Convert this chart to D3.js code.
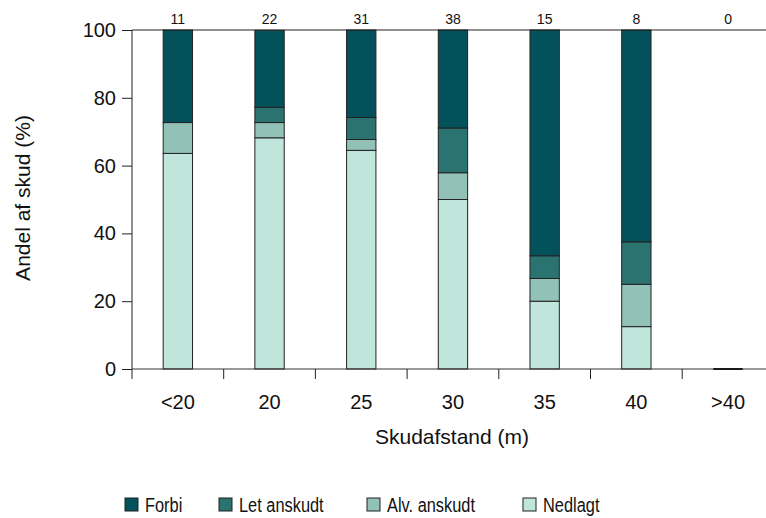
<!DOCTYPE html>
<html>
<head>
<meta charset="utf-8">
<script src="https://cdn.jsdelivr.net/npm/d3@7"></script>
<style>
  body { margin: 0; background: #fff; }
  svg { font-family: "Liberation Sans", Arial, sans-serif; }
  .axis text { font-size: 20px; fill: #111; }
  .axis path, .axis line { stroke: #222; }
</style>
</head>
<body>
<div id="plot-area"></div>
<script>
// categories and counts
const categories = ["<20", "20", "25", "30", "35", "40", ">40"];
const counts = [11, 22, 31, 38, 15, 8, 0];
// shares in percent
const nedlagt = [63.6, 68.2, 64.5, 50.0, 20.0, 12.5, 0];
const alvAnskudt = [9.1, 4.5, 3.2, 7.9, 6.7, 12.5, 0];
const letAnskudt = [0, 4.5, 6.5, 13.2, 6.7, 12.5, 0];
const forbi = [27.3, 22.7, 25.8, 28.9, 66.6, 62.5, 0];
const seriesNames = ["Nedlagt", "Alv. anskudt", "Let anskudt", "Forbi"];
const legendOrder = ["Forbi", "Let anskudt", "Alv. anskudt", "Nedlagt"];
const yTicks = [0, 20, 40, 60, 80, 100];

const colors = d3.scaleOrdinal()
    .domain(["Forbi", "Let anskudt", "Alv. anskudt", "Nedlagt"])
    .range(["#03525b", "#2b7371", "#92c1b8", "#c0e6dc"]);

const width = 766, height = 518;
const margin = {top: 30, left: 132};
const plotBottom = 369;
const bandW = 91.7;

const svg = d3.select("#plot-area").append("svg")
    .attr("width", width)
    .attr("height", height);

const x = d3.scaleBand()
    .domain(categories)
    .range([margin.left, margin.left + bandW * categories.length])
    .paddingInner(0.68).paddingOuter(0.34);
// tick positions sit on band boundaries
const xb = d3.scaleLinear().domain([0, categories.length]).range([margin.left, margin.left + bandW * categories.length]);

const y = d3.scaleLinear().domain([0, 100]).range([plotBottom, margin.top]);

const rows = categories.map(function (c, i) {
    return {cat: c, "Nedlagt": nedlagt[i], "Alv. anskudt": alvAnskudt[i], "Let anskudt": letAnskudt[i], "Forbi": forbi[i]};
});
const stack = d3.stack().keys(seriesNames)(rows);

// bars
svg.append("g").selectAll("g")
    .data(stack)
    .join("g")
    .attr("fill", function (d) { return colors(d.key); })
    .selectAll("rect")
    .data(function (d) { return d; })
    .join("rect")
    .attr("x", function (d) { return x(d.data.cat); })
    .attr("width", x.bandwidth())
    .attr("y", function (d) { return y(d[1]); })
    .attr("height", function (d) { return y(d[0]) - y(d[1]); })
    .attr("stroke", "#222")
    .attr("stroke-width", 1);

// zero-height bar for >40
svg.append("line")
    .attr("x1", x(">40")).attr("x2", x(">40") + x.bandwidth())
    .attr("y1", y(0)).attr("y2", y(0))
    .attr("stroke", "#000").attr("stroke-width", 2);

// y axis
const yAxis = d3.axisLeft(y).tickValues(yTicks).tickSize(10).tickPadding(6);
svg.append("g")
    .attr("class", "axis")
    .attr("transform", "translate(" + margin.left + ",0)")
    .call(yAxis)
    .call(function (g) { g.select(".domain").remove(); });

svg.append("line")
    .attr("x1", margin.left).attr("x2", margin.left)
    .attr("y1", margin.top).attr("y2", plotBottom + 10)
    .attr("stroke", "#222");

// top frame line
svg.append("line")
    .attr("x1", margin.left).attr("x2", width)
    .attr("y1", y(100)).attr("y2", y(100))
    .attr("stroke", "#222");

// x axis baseline
svg.append("line")
    .attr("x1", margin.left).attr("x2", width)
    .attr("y1", y(0)).attr("y2", y(0))
    .attr("stroke", "#333");

// x ticks at band boundaries
svg.append("g").selectAll("line")
    .data(d3.range(1, categories.length))
    .join("line")
    .attr("x1", function (d) { return xb(d); }).attr("x2", function (d) { return xb(d); })
    .attr("y1", plotBottom).attr("y2", plotBottom + 10)
    .attr("stroke", "#222");

// x tick labels
svg.append("g").attr("class", "axis").selectAll("text")
    .data(categories)
    .join("text")
    .attr("x", function (d) { return x(d) + x.bandwidth() / 2; })
    .attr("y", 409)
    .attr("text-anchor", "middle")
    .text(function (d) { return d; });

// counts on top
svg.append("g").selectAll("text")
    .data(counts)
    .join("text")
    .attr("x", function (d, i) { return x(categories[i]) + x.bandwidth() / 2; })
    .attr("y", 24)
    .attr("text-anchor", "middle")
    .style("font-size", "14px")
    .attr("fill", "#111")
    .text(function (d) { return d; });

// axis titles
svg.append("text")
    .attr("x", 452).attr("y", 444)
    .attr("text-anchor", "middle")
    .style("font-size", "21px").attr("fill", "#111")
    .text("Skudafstand (m)");

svg.append("text")
    .attr("transform", "translate(30,198) rotate(-90)")
    .attr("text-anchor", "middle")
    .style("font-size", "21px").attr("fill", "#111")
    .text("Andel af skud (%)");

// legend
const legendX = [125, 219, 367, 523];
const legend = svg.append("g").selectAll("g")
    .data(legendOrder)
    .join("g")
    .attr("transform", function (d, i) { return "translate(" + legendX[i] + ",498)"; });
legend.append("rect")
    .attr("width", 13).attr("height", 13)
    .attr("fill", function (d) { return colors(d); })
    .attr("stroke", "#222");
legend.append("text")
    .attr("transform", "translate(20,14) scale(0.78,1)")
    .style("font-size", "21px").attr("fill", "#111")
    .text(function (d) { return d; });
</script>
</body>
</html>
